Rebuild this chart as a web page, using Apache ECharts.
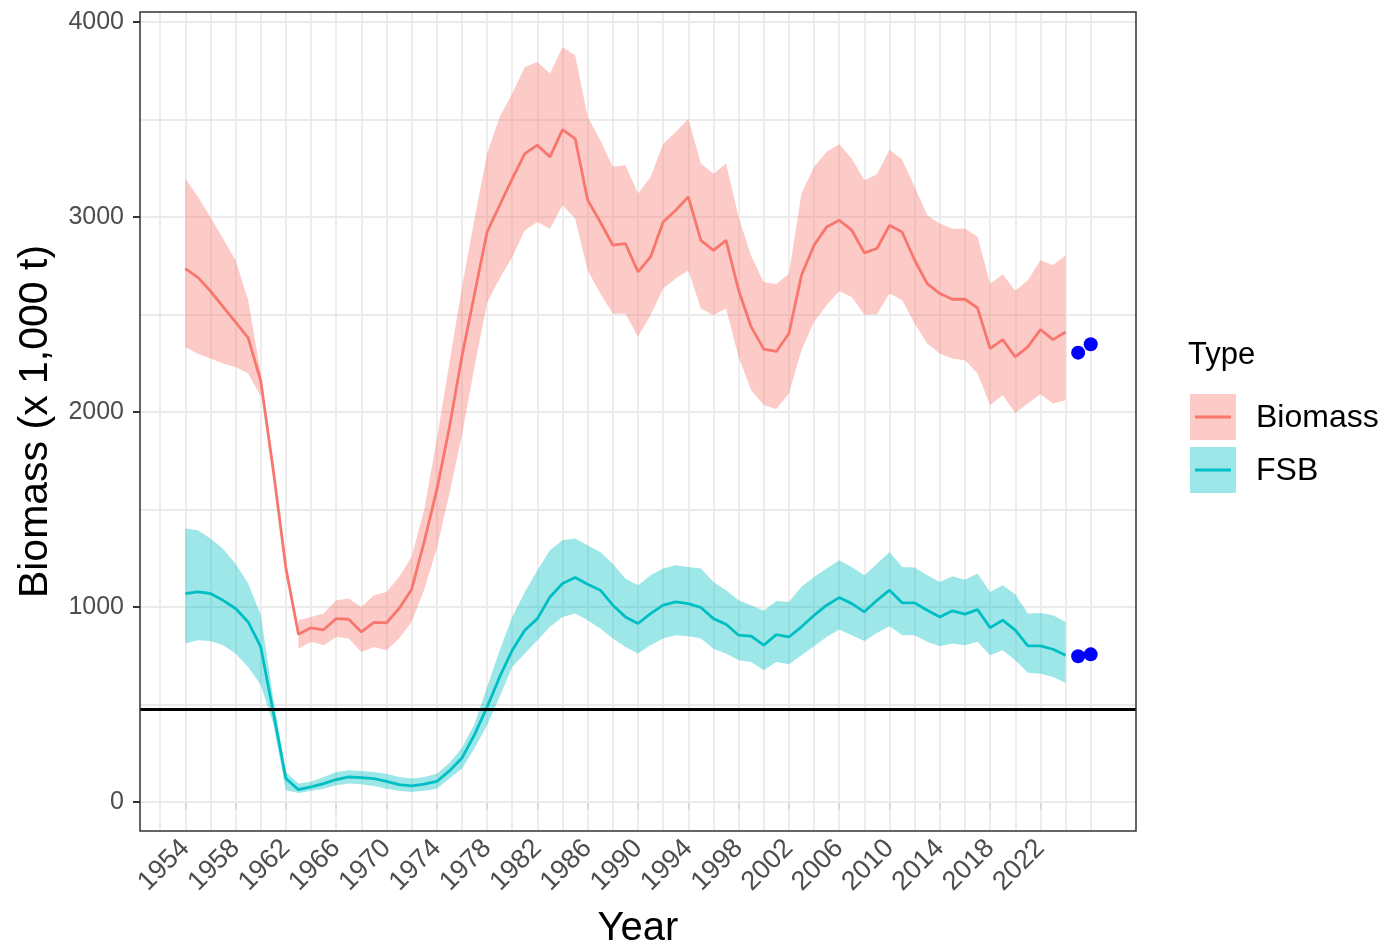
<!DOCTYPE html>
<html>
<head>
<meta charset="utf-8">
<title>Biomass and FSB</title>
<script src="https://cdn.jsdelivr.net/npm/echarts@6/dist/echarts.min.js"></script>
<style>
  html, body { margin: 0; padding: 0; background: #ffffff; }
  #chart { width: 1387px; height: 950px; }
</style>
</head>
<body>
<div id="chart"></div>
<script>
// Assessment years
const years = [
  1954, 1955, 1956, 1957, 1958, 1959, 1960, 1961, 1962, 1963,
  1964, 1965, 1966, 1967, 1968, 1969, 1970, 1971, 1972, 1973,
  1974, 1975, 1976, 1977, 1978, 1979, 1980, 1981, 1982, 1983,
  1984, 1985, 1986, 1987, 1988, 1989, 1990, 1991, 1992, 1993,
  1994, 1995, 1996, 1997, 1998, 1999, 2000, 2001, 2002, 2003,
  2004, 2005, 2006, 2007, 2008, 2009, 2010, 2011, 2012, 2013,
  2014, 2015, 2016, 2017, 2018, 2019, 2020, 2021, 2022, 2023, 2024
];

// Total biomass (x 1,000 t): estimate and interval bounds (null = no interval)
const biomass = [
  2735, 2690, 2620, 2540, 2460, 2380, 2160, 1700, 1200, 860,
  893, 883, 940, 937, 872, 921, 918, 992, 1090, 1335,
  1600, 1920, 2285, 2605, 2923, 3060, 3197, 3325, 3368, 3308,
  3448, 3402, 3086, 2974, 2855, 2863, 2718, 2795, 2974, 3034,
  3103, 2880, 2829, 2880, 2624, 2436, 2322, 2310, 2402, 2701,
  2855, 2949, 2983, 2932, 2816, 2838, 2957, 2923, 2778, 2658,
  2607, 2578, 2578, 2533, 2325, 2371, 2282, 2334, 2422, 2371, 2410
];
const biomassHi = [
  3197, 3103, 3000, 2889, 2778, 2573, 2200, null, null, 932,
  949, 966, 1034, 1043, 1000, 1060, 1077, 1154, 1257, 1500,
  1860, 2250, 2640, 2990, 3325, 3513, 3633, 3769, 3795, 3735,
  3872, 3829, 3513, 3393, 3257, 3265, 3120, 3205, 3376, 3436,
  3504, 3274, 3222, 3274, 3000, 2800, 2665, 2656, 2709, 3120,
  3257, 3334, 3373, 3299, 3188, 3219, 3345, 3294, 3154, 3009,
  2966, 2940, 2940, 2898, 2658, 2706, 2621, 2675, 2778, 2752, 2804
];
const biomassLo = [
  2333, 2299, 2274, 2248, 2231, 2197, 2080, null, null, 786,
  821, 804, 846, 838, 769, 795, 778, 838, 923, 1090,
  1300, 1580, 1880, 2230, 2560, 2684, 2795, 2932, 2974, 2940,
  3060, 2992, 2726, 2607, 2504, 2504, 2385, 2496, 2633, 2684,
  2726, 2530, 2496, 2530, 2282, 2111, 2035, 2015, 2094, 2316,
  2462, 2547, 2619, 2590, 2499, 2501, 2607, 2573, 2453, 2351,
  2299, 2274, 2265, 2197, 2034, 2086, 1995, 2043, 2091, 2043, 2060
];

// FSB (x 1,000 t): estimate and interval bounds
const fsb = [
  1068, 1077, 1069, 1034, 992, 923, 795, 460, 120, 63,
  77, 94, 115, 128, 125, 120, 106, 89, 82, 91,
  105, 159, 225, 345, 487, 641, 778, 880, 940, 1051,
  1120, 1151, 1116, 1086, 1009, 949, 915, 966, 1009, 1026,
  1017, 997, 940, 911, 855, 850, 804, 858, 846, 898,
  957, 1009, 1048, 1017, 975, 1034, 1086, 1021, 1021, 983,
  949, 980, 963, 986, 894, 932, 881, 800, 800, 783, 752
];
const fsbHi = [
  1402, 1393, 1351, 1299, 1222, 1120, 960, 530, 154, 94,
  103, 128, 154, 163, 159, 154, 145, 128, 120, 128,
  145, 200, 278, 400, 590, 778, 949, 1077, 1188, 1291,
  1342, 1351, 1316, 1282, 1222, 1145, 1111, 1163, 1197, 1214,
  1205, 1197, 1128, 1086, 1034, 1009, 980, 1030, 1026, 1103,
  1154, 1197, 1239, 1205, 1163, 1222, 1282, 1205, 1202, 1163,
  1128, 1157, 1140, 1171, 1077, 1111, 1065, 966, 969, 957, 923
];
const fsbLo = [
  812, 829, 826, 804, 761, 692, 600, 400, 60, 46,
  57, 68, 86, 94, 91, 82, 68, 57, 51, 57,
  68, 120, 170, 275, 393, 539, 692, 761, 829, 898,
  949, 966, 932, 889, 838, 795, 761, 804, 838, 855,
  850, 838, 786, 761, 727, 718, 675, 718, 706, 752,
  798, 846, 884, 855, 826, 867, 901, 855, 855, 821,
  798, 812, 804, 821, 752, 778, 727, 662, 658, 641, 610
];

// Survey points shown after the assessment period
const obsYears = [2025, 2026];
const biomassObs = [2304, 2347];
const fsbObs = [747, 757];

// Reference level (horizontal line)
const limitRef = 477;

// Axis ticks and grid positions
const xTickYears = [1954, 1958, 1962, 1966, 1970, 1974, 1978, 1982, 1986, 1990,
                    1994, 1998, 2002, 2006, 2010, 2014, 2018, 2022];
const xGridYears = [1952, 1954, 1956, 1958, 1960, 1962, 1964, 1966, 1968, 1970,
                    1972, 1974, 1976, 1978, 1980, 1982, 1984, 1986, 1988, 1990,
                    1992, 1994, 1996, 1998, 2000, 2002, 2004, 2006, 2008, 2010,
                    2012, 2014, 2016, 2018, 2020, 2022, 2024, 2026];
const yTicks = [0, 1000, 2000, 3000, 4000];
const yGrid = [0, 500, 1000, 1500, 2000, 2500, 3000, 3500, 4000];

const RED = '#F8766D';
const TEAL = '#00BFC4';
const BAND_ALPHA = 0.38;
const LINE_W = 2.8;
const FONT = '"Liberation Sans", Arial, Helvetica, sans-serif';

function pairs(xs, ys) {
  return xs.map((x, i) => [x, ys[i] == null ? '-' : ys[i]]);
}

// Split an interval into runs of consecutive years that have both bounds
function bandRuns(xs, lo, hi) {
  const runs = [];
  let cur = [];
  xs.forEach((x, i) => {
    if (lo[i] == null || hi[i] == null) {
      if (cur.length) runs.push(cur);
      cur = [];
    } else {
      cur.push([x, lo[i], hi[i]]);
    }
  });
  if (cur.length) runs.push(cur);
  return runs;
}

// Ribbon drawn as one polygon per run, through the axis scales
function ribbonSeries(name, color, lo, hi) {
  const runs = bandRuns(years, lo, hi);
  return {
    name: name + ' interval',
    type: 'custom',
    silent: true,
    clip: true,
    z: 2,
    data: runs.map(r => [r[0][0], r[0][1]]),
    renderItem: function (params, api) {
      const run = runs[params.dataIndex];
      const upper = run.map(r => api.coord([r[0], r[2]]));
      const lower = run.slice().reverse().map(r => api.coord([r[0], r[1]]));
      return {
        type: 'polygon',
        shape: { points: upper.concat(lower) },
        style: { fill: color, opacity: BAND_ALPHA }
      };
    }
  };
}

const chart = echarts.init(document.getElementById('chart'), null, { renderer: 'canvas' });

const option = {
  animation: false,
  backgroundColor: '#ffffff',
  textStyle: { fontFamily: FONT },
  grid: {
    left: 140, right: 251, top: 12, bottom: 119, show: false,
    containLabel: false, outerBoundsMode: 'none'
  },
  xAxis: {
    type: 'value',
    min: 1950.4,
    max: 2029.6,
    name: 'Year',
    nameLocation: 'middle',
    nameGap: 78,
    nameTextStyle: { fontSize: 40, color: '#000000', fontFamily: FONT },
    axisLine: { show: false },
    splitLine: { show: false },
    axisTick: {
      show: true, length: 7, inside: false,
      customValues: xTickYears,
      lineStyle: { color: '#333333', width: 2 }
    },
    axisLabel: {
      customValues: xTickYears,
      rotate: 45,
      margin: 13,
      fontSize: 27,
      color: '#4d4d4d',
      fontFamily: FONT,
      formatter: v => String(v)
    }
  },
  yAxis: {
    type: 'value',
    min: -149,
    max: 4051,
    name: 'Biomass (x 1,000 t)',
    nameLocation: 'middle',
    nameGap: 84,
    nameTextStyle: { fontSize: 41, color: '#000000', fontFamily: FONT },
    axisLine: { show: false },
    splitLine: { show: false },
    axisTick: {
      show: true, length: 7,
      customValues: yTicks,
      lineStyle: { color: '#333333', width: 2 }
    },
    axisLabel: {
      customValues: yTicks,
      margin: 16,
      fontSize: 25,
      color: '#4d4d4d',
      fontFamily: FONT,
      formatter: v => String(v)
    }
  },
  series: [
    // panel grid lines
    {
      name: 'grid', type: 'line', data: [], silent: true,
      markLine: {
        z: 1, silent: true, symbol: ['none', 'none'], animation: false,
        label: { show: false },
        lineStyle: { color: '#ebebeb', width: 1.8, type: 'solid' },
        emphasis: { disabled: true },
        data: xGridYears.map(v => ({ xAxis: v })).concat(yGrid.map(v => ({ yAxis: v })))
      }
    },
    ribbonSeries('Biomass', RED, biomassLo, biomassHi),
    ribbonSeries('FSB', TEAL, fsbLo, fsbHi),
    {
      name: 'Biomass', type: 'line', data: pairs(years, biomass), symbol: 'none',
      lineStyle: { color: RED, width: LINE_W }, z: 3, silent: true
    },
    {
      name: 'FSB', type: 'line', data: pairs(years, fsb), symbol: 'none',
      lineStyle: { color: TEAL, width: LINE_W }, z: 3, silent: true,
      markLine: {
        z: 6, silent: true, symbol: ['none', 'none'], animation: false,
        label: { show: false },
        lineStyle: { color: '#000000', width: 2.8, type: 'solid' },
        emphasis: { disabled: true },
        data: [{ yAxis: limitRef }]
      }
    },
    {
      name: 'Biomass survey', type: 'scatter', data: pairs(obsYears, biomassObs),
      symbol: 'circle', symbolSize: 14, itemStyle: { color: '#0000ff', opacity: 1 }, z: 7, silent: true
    },
    {
      name: 'FSB survey', type: 'scatter', data: pairs(obsYears, fsbObs),
      symbol: 'circle', symbolSize: 14, itemStyle: { color: '#0000ff', opacity: 1 }, z: 7, silent: true
    }
  ],
  graphic: [
    // panel border
    {
      type: 'rect', z: 100, silent: true,
      shape: { x: 140, y: 12, width: 996, height: 819 },
      style: { fill: 'none', stroke: '#333333', lineWidth: 1.5 }
    },
    // legend
    {
      type: 'group', left: 1188, top: 340, z: 100, silent: true,
      children: [
        { type: 'text', x: 0, y: 0, style: { text: 'Type', fontSize: 31, fontFamily: FONT, fill: '#000000' } },
        { type: 'rect', shape: { x: 2, y: 54, width: 46, height: 46 }, style: { fill: RED, opacity: BAND_ALPHA } },
        { type: 'line', shape: { x1: 7, y1: 77, x2: 43, y2: 77 }, style: { stroke: RED, lineWidth: LINE_W } },
        { type: 'text', x: 68, y: 78, style: { text: 'Biomass', fontSize: 32, fontFamily: FONT, fill: '#000000', verticalAlign: 'middle' } },
        { type: 'rect', shape: { x: 2, y: 107, width: 46, height: 46 }, style: { fill: TEAL, opacity: BAND_ALPHA } },
        { type: 'line', shape: { x1: 7, y1: 130, x2: 43, y2: 130 }, style: { stroke: TEAL, lineWidth: LINE_W } },
        { type: 'text', x: 68, y: 131, style: { text: 'FSB', fontSize: 32, fontFamily: FONT, fill: '#000000', verticalAlign: 'middle' } }
      ]
    }
  ]
};

chart.setOption(option);
</script>
</body>
</html>
